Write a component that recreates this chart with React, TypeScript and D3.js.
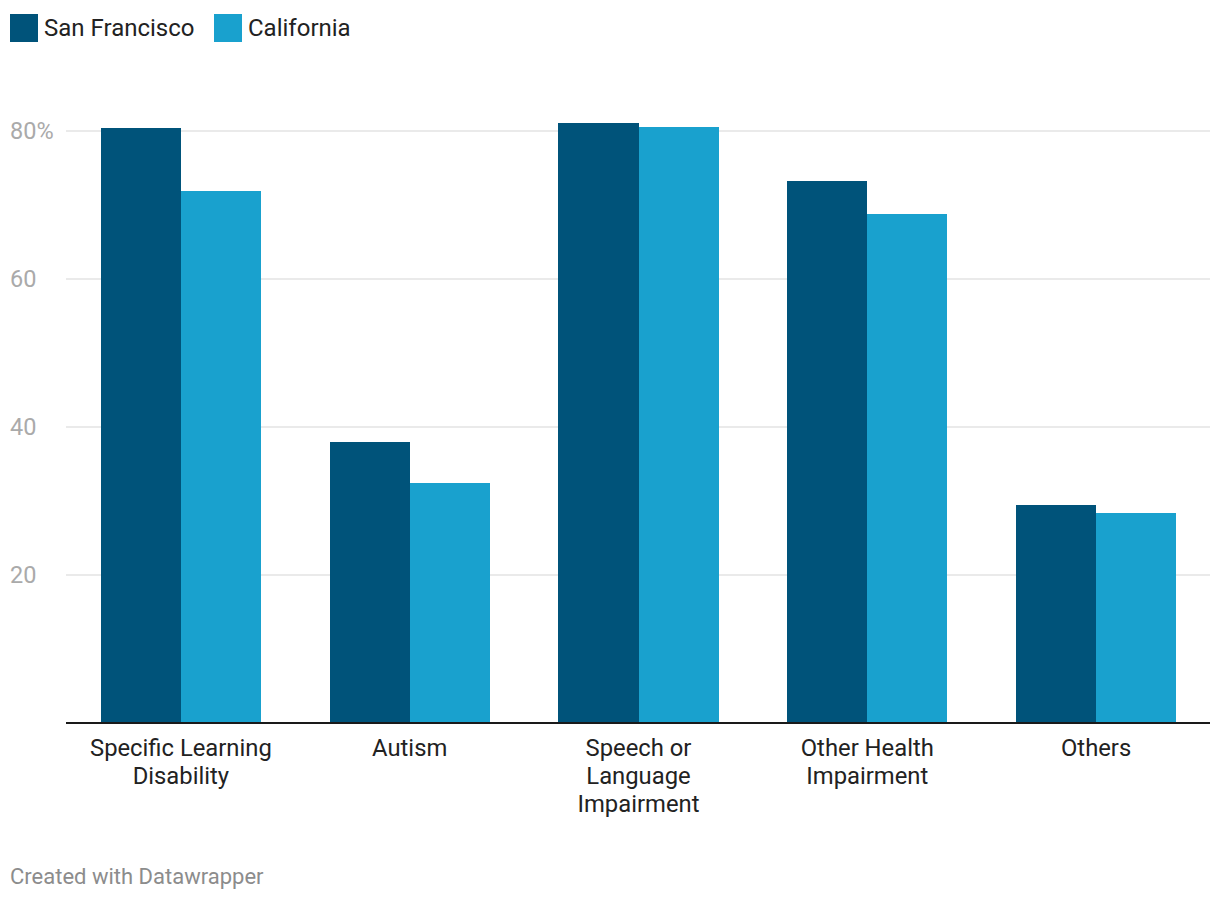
import React from "react";
import * as d3 from "d3";

const categories: string[][] = [
  ["Specific Learning", "Disability"],
  ["Autism"],
  ["Speech or", "Language", "Impairment"],
  ["Other Health", "Impairment"],
  ["Others"],
];
const seriesNames = ["San Francisco", "California"];
const sanFrancisco = [80.4, 38.0, 81.1, 73.2, 29.5];
const california = [71.9, 32.4, 80.5, 68.8, 28.4];
const yTicks = [20, 40, 60, 80];
const colors = ["#00537a", "#19a1ce"];

const W = 1220;
const H = 900;
const FONT = "Roboto, 'Noto Sans', sans-serif";

export default function App() {
  const x = d3
    .scaleBand<number>()
    .domain(categories.map((_, i) => i))
    .range([66.5, 1210.5])
    .paddingInner(0.3)
    .paddingOuter(0.15);
  const inner = d3
    .scaleBand<number>()
    .domain([0, 1])
    .range([0, x.bandwidth()]);
  const y = d3.scaleLinear().domain([0, 80]).range([723, 131]);
  const series = [sanFrancisco, california];

  return (
    <div style={{ position: "absolute", left: 0, top: 0 }}>
      <svg width={W} height={H} style={{ display: "block", fontFamily: FONT }}>
        <rect width={W} height={H} fill="#fff" />
        {/* legend */}
        {seriesNames.map((name, i) => {
          const lx = i === 0 ? 10 : 214;
          return (
            <g key={name}>
              <rect x={lx} y={14} width={28} height={28} fill={colors[i]} />
              <text x={lx + 34} y={36} fontSize={24} fill="#222">
                {name}
              </text>
            </g>
          );
        })}
        {/* gridlines */}
        {yTicks.map((t) => (
          <g key={t}>
            <line x1={66} x2={1210} y1={y(t)} y2={y(t)} stroke="#e3e3e3" strokeWidth={1.5} />
            <text x={10} y={y(t)} dy="0.35em" fontSize={23.5} fill="#aaaaaa">
              {t === 80 ? `${t}%` : t}
            </text>
          </g>
        ))}
        {/* bars */}
        {series.map((vals, si) =>
          vals.map((v, ci) => (
            <rect
              key={`${si}-${ci}`}
              x={(x(ci) ?? 0) + (inner(si) ?? 0)}
              y={y(v)}
              width={inner.bandwidth()}
              height={y(0) - y(v)}
              fill={colors[si]}
              shapeRendering="crispEdges"
            />
          ))
        )}
        {/* baseline */}
        <line x1={66} x2={1210} y1={y(0)} y2={y(0)} stroke="#1a1a1a" strokeWidth={2} />
        {/* category labels */}
        {categories.map((lines, ci) => (
          <text
            key={ci}
            x={(x(ci) ?? 0) + x.bandwidth() / 2}
            textAnchor="middle"
            fontSize={23.8}
            fill="#222"
          >
            {lines.map((l, li) => (
              <tspan key={li} x={(x(ci) ?? 0) + x.bandwidth() / 2} y={756 + li * 28}>
                {l}
              </tspan>
            ))}
          </text>
        ))}
        {/* footer */}
        <text x={10} y={884} fontSize={22} fill="#8c8c8c">
          Created with Datawrapper
        </text>
      </svg>
    </div>
  );
}
